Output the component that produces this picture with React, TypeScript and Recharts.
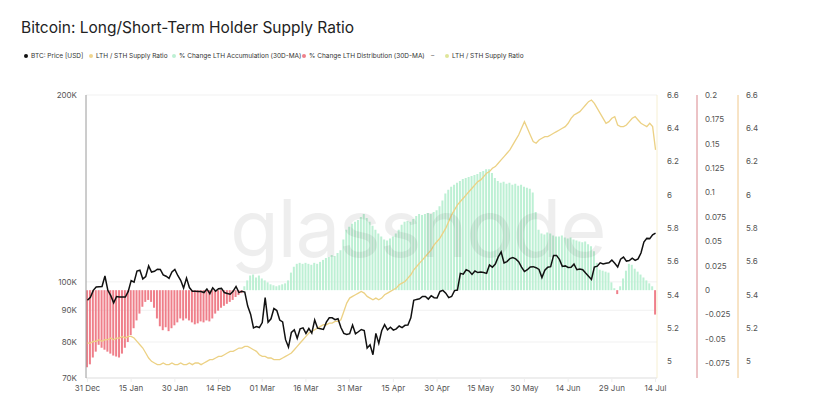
import React from "react";
import { ComposedChart, Bar, Line, XAxis, YAxis, CartesianGrid } from "recharts";

// daily, 31 Dec 2024 -> 14 Jul 2025
const PRICE_K = [
  93.4,
  94.4, 96.9, 98.1, 98.2, 98.3, 102.2, 96.9, 95.0, 92.5, 94.7,
  94.5, 94.5, 94.5, 96.5, 100.5, 99.9, 104.1, 104.4, 101.1, 102.0,
  106.1, 103.7, 104.0, 104.8, 104.7, 102.6, 102.1, 101.3, 103.7, 104.7, 102.4,
  100.6, 97.7, 101.4, 97.9, 96.6, 96.6, 96.5, 96.5, 96.1, 97.4,
  95.7, 97.8, 96.6, 97.5, 97.6, 96.1, 95.8, 95.5, 96.6, 98.3,
  96.1, 96.6, 96.3, 91.4, 88.7, 84.3, 84.7, 84.4,
  86.0, 94.3, 86.1, 87.2, 90.6, 89.9, 86.8, 86.2, 80.7, 78.5,
  82.9, 83.7, 81.1, 84.0, 84.3, 82.6, 84.1, 82.7, 86.8, 84.2,
  84.0, 83.8, 86.1, 87.5, 87.5, 86.9, 87.2, 84.4, 82.6, 82.3, 82.5,
  85.2, 82.5, 83.1, 83.8, 83.5, 78.2, 79.2, 76.3, 82.6, 79.6,
  83.4, 85.3, 83.7, 84.5, 83.6, 84.0, 84.9, 84.4, 85.1, 85.2,
  87.5, 93.4, 93.7, 93.9, 94.7, 94.7, 93.8, 95.0, 94.3, 94.2,
  96.5, 96.9, 95.9, 94.3, 94.7, 96.8, 97.0, 103.2, 102.9, 104.6,
  104.1, 102.8, 104.1, 103.5, 103.7, 103.5, 103.2, 106.5, 105.6, 106.8,
  109.7, 111.7, 107.3, 107.8, 109.0, 109.4, 108.9, 107.8, 105.6, 103.9, 104.6,
  105.7, 105.8, 105.4, 104.7, 101.6, 104.4, 105.6, 105.8, 110.3, 110.3,
  108.7, 105.9, 106.1, 105.5, 105.6, 106.8, 104.6, 104.9, 104.6, 103.3,
  102.1, 100.9, 105.6, 106.0, 107.3, 106.9, 107.1, 107.3, 108.4, 107.1,
  105.7, 108.8, 109.6, 108.0, 108.2, 109.2, 108.3, 108.9, 111.3, 115.9, 117.5, 117.4, 119.1, 119.8,
];

const SUPPLY_RATIO = [
  5.11, 5.11, 5.12, 5.12, 5.13, 5.12, 5.13, 5.13, 5.14, 5.13, 5.14,
  5.14, 5.15, 5.14, 5.15, 5.15, 5.14, 5.12, 5.10, 5.08, 5.05,
  5.02, 5.00, 4.99, 4.98, 4.98, 4.99, 4.98, 4.98, 4.99, 4.98, 4.98,
  4.99, 4.98, 4.98, 4.99, 4.98, 4.99, 4.99, 4.98, 4.99, 5.00,
  5.01, 5.01, 5.02, 5.03, 5.03, 5.04, 5.05, 5.06, 5.06, 5.07,
  5.08, 5.08, 5.09, 5.09, 5.08, 5.07, 5.06, 5.04,
  5.03, 5.03, 5.02, 5.02, 5.01, 5.01, 5.01, 5.02, 5.03, 5.04,
  5.05, 5.07, 5.09, 5.11, 5.13, 5.15, 5.17, 5.18, 5.19, 5.20,
  5.21, 5.22, 5.22, 5.23, 5.23, 5.24, 5.24, 5.25, 5.30, 5.35, 5.38,
  5.39, 5.40, 5.41, 5.42, 5.41, 5.39, 5.38, 5.37, 5.38, 5.37,
  5.38, 5.40, 5.41, 5.42, 5.43, 5.44, 5.46, 5.47, 5.48, 5.50,
  5.52, 5.55, 5.57, 5.59, 5.61, 5.63, 5.65, 5.67, 5.70, 5.72,
  5.74, 5.77, 5.80, 5.84, 5.88, 5.91, 5.94, 5.96, 5.98, 6.00,
  6.02, 6.04, 6.06, 6.08, 6.09, 6.11, 6.13, 6.14, 6.16, 6.17,
  6.19, 6.21, 6.23, 6.25, 6.27, 6.30, 6.33, 6.36, 6.40, 6.44, 6.40,
  6.36, 6.32, 6.31, 6.33, 6.34, 6.35, 6.35, 6.36, 6.37, 6.38,
  6.39, 6.40, 6.41, 6.43, 6.46, 6.48, 6.49, 6.50, 6.52, 6.54,
  6.56, 6.57, 6.55, 6.52, 6.49, 6.46, 6.43, 6.44, 6.46, 6.47,
  6.42, 6.41, 6.41, 6.42, 6.44, 6.46, 6.47, 6.45, 6.43, 6.42, 6.41, 6.43, 6.41, 6.27,
];

// % change of LTH supply (30D-MA); positive = accumulation, negative = distribution
const LTH_CHANGE = [
  -0.079,
  -0.076, -0.069, -0.063, -0.056, -0.059, -0.061, -0.063, -0.065, -0.067, -0.068,
  -0.069, -0.065, -0.059, -0.053, -0.046, -0.039, -0.031, -0.024, -0.017, -0.012,
  -0.010, -0.012, -0.018, -0.029, -0.037, -0.041, -0.038, -0.042, -0.039, -0.036, -0.033,
  -0.029, -0.031, -0.029, -0.031, -0.033, -0.035, -0.034, -0.032, -0.033, -0.031,
  -0.032, -0.029, -0.024, -0.021, -0.018, -0.016, -0.014, -0.012, -0.010, -0.007,
  -0.005, -0.003, 0.004, 0.010, 0.015, 0.016, 0.013, 0.015,
  0.012, 0.010, 0.008, 0.006, 0.005, 0.004, 0.005, 0.006, 0.007, 0.010,
  0.018, 0.024, 0.027, 0.028, 0.027, 0.028, 0.027, 0.026, 0.028, 0.027,
  0.029, 0.031, 0.033, 0.034, 0.036, 0.035, 0.038, 0.041, 0.052, 0.062, 0.065,
  0.068, 0.070, 0.072, 0.075, 0.078, 0.074, 0.070, 0.066, 0.062, 0.058,
  0.055, 0.052, 0.051, 0.053, 0.055, 0.058, 0.062, 0.067, 0.070, 0.071,
  0.070, 0.073, 0.076, 0.078, 0.077, 0.078, 0.079, 0.078, 0.080, 0.082,
  0.086, 0.092, 0.099, 0.103, 0.106, 0.108, 0.110, 0.112, 0.114, 0.115,
  0.116, 0.117, 0.118, 0.119, 0.121, 0.122, 0.124, 0.124, 0.120, 0.115,
  0.112, 0.110, 0.111, 0.109, 0.110, 0.108, 0.109, 0.107, 0.108, 0.106, 0.105,
  0.104, 0.100, 0.080, 0.062, 0.058, 0.057, 0.059, 0.058, 0.056, 0.055,
  0.055, 0.056, 0.054, 0.053, 0.054, 0.052, 0.051, 0.050, 0.049, 0.050,
  0.047, 0.045, 0.040, 0.028, 0.021, 0.020, 0.019, 0.018, 0.008, 0.002,
  -0.004, 0.004, 0.012, 0.020, 0.027, 0.026, 0.022, 0.019, 0.016, 0.013, 0.010, 0.007, 0.004, -0.025,
];

const MONTHS = ["Jan", "Feb", "Mar", "Apr", "May", "Jun", "Jul", "Aug", "Sep", "Oct", "Nov", "Dec"];
const START = Date.UTC(2024, 11, 31);

const X_TICKS = [
  "31 Dec", "15 Jan", "30 Jan", "14 Feb", "01 Mar", "16 Mar", "31 Mar",
  "15 Apr", "30 Apr", "15 May", "30 May", "14 Jun", "29 Jun", "14 Jul",
];
const PRICE_TICKS = [70, 80, 90, 100, 200];
const RATIO_TICKS = [5, 5.2, 5.4, 5.6, 5.8, 6, 6.2, 6.4, 6.6];
const CHANGE_TICKS = [-0.075, -0.05, -0.025, 0, 0.025, 0.05, 0.075, 0.1, 0.125, 0.15, 0.175, 0.2];

const dayLabel = (i: number) => {
  const d = new Date(START + i * 86400000);
  return `${String(d.getUTCDate()).padStart(2, "0")} ${MONTHS[d.getUTCMonth()]}`;
};

const data = PRICE_K.map((p, i) => ({
  date: dayLabel(i),
  price: p,
  ratio: SUPPLY_RATIO[i],
  accum: LTH_CHANGE[i] > 0 ? LTH_CHANGE[i] : 0,
  dist: LTH_CHANGE[i] < 0 ? LTH_CHANGE[i] : 0,
}));

const FONT = "Inter, 'Noto Sans', sans-serif";
const tick = { fill: "#555", fontSize: 8, fontFamily: FONT };

const legend = [
  { x: 24, color: "#111", label: "BTC: Price [USD]" },
  { x: 89, color: "#efd58f", label: "LTH / STH Supply Ratio" },
  { x: 172, color: "#bdf0d4", label: "% Change LTH Accumulation (30D-MA)" },
  { x: 302, color: "#ef7f8a", label: "% Change LTH Distribution (30D-MA)" },
  { x: 445, color: "#dfe59a", label: "LTH / STH Supply Ratio" },
];

export default function App() {
  return (
    <div
      style={{
        position: "absolute",
        left: 0,
        top: 0,
        width: 828,
        height: 396,
        background: "#fff",
        fontFamily: FONT,
        overflow: "hidden",
      }}
    >
      <div style={{ position: "absolute", left: 21, top: 18, fontSize: 15.5, lineHeight: "20px", color: "#222" }}>
        Bitcoin: Long/Short-Term Holder Supply Ratio
      </div>
      {legend.map((l) => (
        <div
          key={l.x}
          style={{
            position: "absolute",
            left: l.x,
            top: 51,
            height: 10,
            display: "flex",
            alignItems: "center",
            fontSize: 6.5,
            color: "#333",
            whiteSpace: "nowrap",
          }}
        >
          <span
            style={{
              display: "inline-block",
              width: 4,
              height: 4,
              borderRadius: 2,
              background: l.color,
              marginRight: 3,
            }}
          />
          {l.label}
        </div>
      ))}
      <div style={{ position: "absolute", left: 431, top: 51, fontSize: 6.5, lineHeight: "10px", color: "#555" }}>
        –
      </div>

      <ComposedChart
        width={828}
        height={396}
        data={data}
        stackOffset="sign"
        margin={{ top: 95, right: 40, bottom: 0, left: 0 }}
        style={{ position: "absolute", left: 0, top: 0 }}
      >
        <CartesianGrid yAxisId="price" vertical={false} stroke="#f1f1f1" />
        <XAxis
          dataKey="date"
          ticks={X_TICKS}
          interval={0}
          height={18}
          tick={tick}
          tickSize={4}
          tickMargin={3}
          axisLine={{ stroke: "#e4e4e4" }}
          tickLine={{ stroke: "#eeeeee" }}
        />
        <YAxis
          yAxisId="price"
          orientation="left"
          scale="log"
          domain={[70, 200]}
          ticks={PRICE_TICKS}
          allowDataOverflow
          width={86}
          tick={tick}
          tickSize={0}
          tickMargin={9}
          tickFormatter={(v: number) => `${v}K`}
          axisLine={{ stroke: "#9a9a9a" }}
        />
        <YAxis
          yAxisId="right1"
          orientation="right"
          domain={[4.9, 6.6]}
          ticks={RATIO_TICKS}
          allowDataOverflow
          width={40}
          tick={tick}
          tickSize={0}
          tickMargin={10}
          axisLine={{ stroke: "#f6efd2" }}
        />
        <YAxis
          yAxisId="right2"
          orientation="right"
          domain={[-0.09, 0.2]}
          ticks={CHANGE_TICKS}
          allowDataOverflow
          width={41}
          tick={tick}
          tickSize={0}
          tickMargin={8}
          axisLine={{ stroke: "#d9868c" }}
        />
        <YAxis
          yAxisId="right3"
          orientation="right"
          domain={[4.9, 6.6]}
          ticks={RATIO_TICKS}
          allowDataOverflow
          width={50}
          tick={tick}
          tickSize={0}
          tickMargin={8}
          axisLine={{ stroke: "#f0c88c" }}
        />
        <Bar yAxisId="right2" dataKey="accum" stackId="c" fill="#bdf0d4" barSize={2} isAnimationActive={false} />
        <Bar yAxisId="right2" dataKey="dist" stackId="c" fill="#ef7f8a" barSize={2} isAnimationActive={false} />
        <Line
          yAxisId="right3"
          dataKey="ratio"
          type="linear"
          stroke="#ecd184"
          strokeWidth={1.3}
          dot={false}
          isAnimationActive={false}
        />
        <Line
          yAxisId="price"
          dataKey="price"
          type="linear"
          stroke="#111"
          strokeWidth={1.5}
          dot={false}
          isAnimationActive={false}
        />
      </ComposedChart>

      <div
        style={{
          position: "absolute",
          left: 230,
          top: 180,
          fontSize: 80,
          lineHeight: "96px",
          fontWeight: 400,
          letterSpacing: -1.5,
          color: "rgba(0,0,0,0.065)",
          pointerEvents: "none",
        }}
      >
        glassnode
      </div>
    </div>
  );
}
